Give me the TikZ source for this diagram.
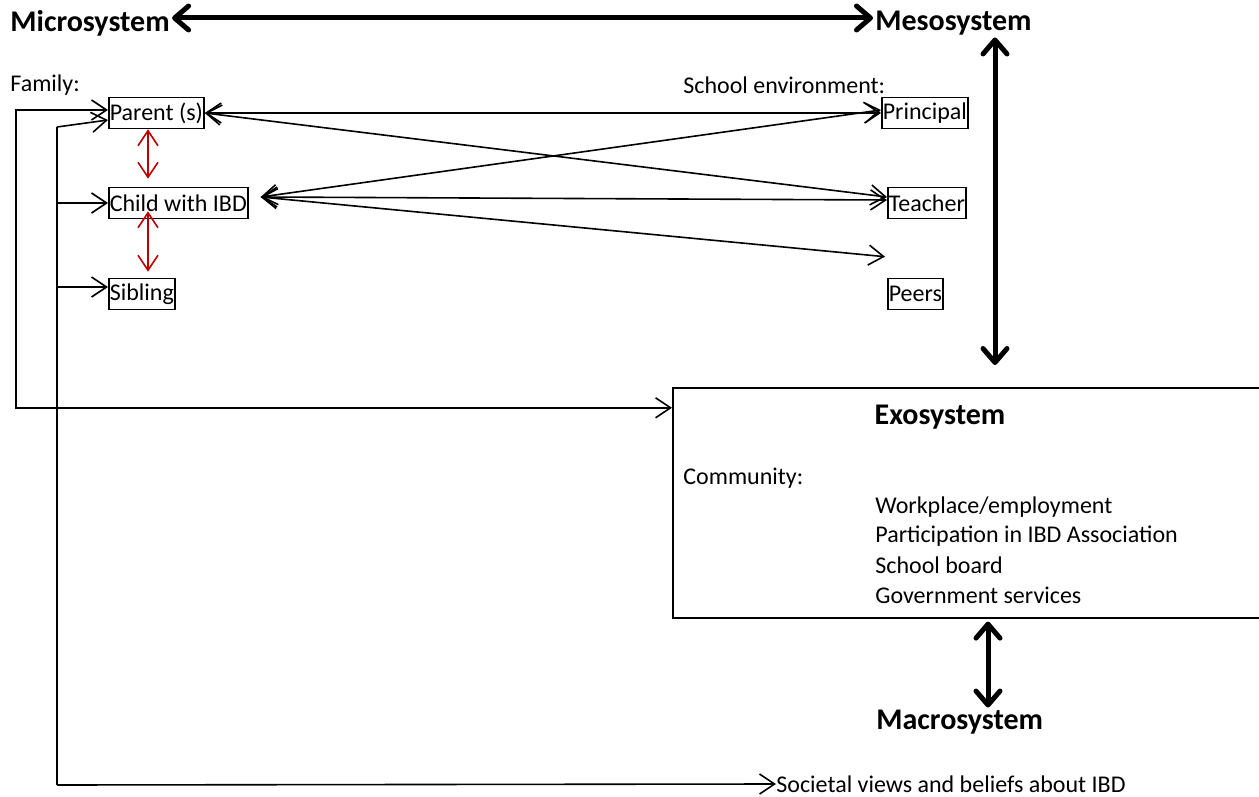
\documentclass[tikz,border=0pt]{standalone}
\usepackage{fontspec}
\setmainfont{Carlito}
\usetikzlibrary{arrows.meta}
\definecolor{arrowred}{RGB}{192,0,0}
\tikzstyle{member} = [rectangle, draw=black, line width=0.8pt, inner xsep=0.5pt, inner ysep=0pt, minimum height=15.5pt, anchor=west, font=\fontsize{12}{14}\selectfont]
\tikzstyle{plain} = [inner sep=0pt, anchor=west, font=\fontsize{12}{14}\selectfont]
\tikzstyle{heading} = [inner sep=1pt, font=\fontsize{15}{18}\selectfont\bfseries]
\tikzstyle{arrow} = [line width=0.8pt, >={Straight Barb[length=7.5pt,width=10pt]}]
\tikzstyle{redarrow} = [arrow, draw=arrowred]
\tikzstyle{bigarrow} = [line width=2.5pt, >={Straight Barb[length=7pt,width=12pt,line cap=round,line join=round]}]

\begin{document}
\begin{tikzpicture}[x=0.5pt, y=-0.5pt]
        \useasboundingbox (0,0) rectangle (1259,797);
        % systems
        \node (micro) [heading, anchor=west] at (8,23) {Microsystem};
        \node (meso) [heading, anchor=west] at (873,23) {Mesosystem};
        \node (macro) [heading, anchor=west] at (874,722) {Macrosystem};
        % family side
        \node (family) [plain] at (10,85) {Family:};
        \node (parent) [member] at (108,113) {Parent (s)};
        \node (child) [member] at (108,203) {Child with IBD};
        \node (sibling) [member] at (108,294) {Sibling};
        % school side
        \node (school) [plain] at (683,85) {School environment:};
        \node (principal) [member] at (881,113) {Principal};
        \node (teacher) [member] at (887,203) {Teacher};
        \node (peers) [member] at (887,294) {Peers};
        % exosystem
        \node (exo) [draw, line width=0.8pt, inner sep=0pt, minimum width=295pt, minimum height=115pt, anchor=north west] at (672,387) {};
        \node (exotitle) [heading] at (940,417) {Exosystem};
        \node (community) [plain] at (683,478) {Community:};
        \node (work) [plain] at (875,507) {Workplace/employment};
        \node (assoc) [plain] at (875,536) {Participation in IBD Association};
        \node (board) [plain] at (875,565) {School board};
        \node (services) [plain] at (875,595) {Government services};
        \node (societal) [plain] at (776,784) {Societal views and beliefs about IBD};

        \coordinate (mesox) at (995,0);
        \coordinate (macrox) at (988,0);
        \coordinate (redx) at (148,0);
        \coordinate (famtop) at (57,127);
        \coordinate (fambottom) at (57,785);

        \draw[bigarrow, <->] ([yshift=2.5pt]micro.east) -- ([yshift=2.5pt]meso.west);
        \draw[bigarrow, <->, shorten >=11pt] (meso.south -| mesox) -- (exo.north -| mesox);
        \draw[bigarrow, <->, shorten <=1.5pt] (exo.south -| macrox) -- (macro.north -| macrox);

        \draw[redarrow, <->, shorten >=4pt] (parent.south -| redx) -- (child.north -| redx);
        \draw[redarrow, <->, shorten <=-4pt, shorten >=3pt] (child.south -| redx) -- (sibling.north -| redx);

        \draw[arrow, <->] (parent.east) -- (principal.west);
        \draw[arrow, <->] (parent.east) -- ([yshift=3pt]teacher.west);
        \draw[arrow, <->] ([shift={(6pt,3pt)}]child.east) -- ([yshift=1.5pt]principal.west);
        \draw[arrow, <->] ([shift={(6pt,3pt)}]child.east) -- ([yshift=1.5pt]teacher.west);
        \draw[arrow, <->] ([shift={(6pt,3pt)}]child.east) -- ([shift={(-1pt,10.5pt)}]peers.north west);

        \draw[arrow, <->] ([yshift=1.5pt]parent.west) --++(-92,0) |- ([yshift=47.5pt]exo.west);
        \draw[arrow] (famtop) -- (fambottom);
        \draw[arrow, ->] (famtop) -- ([yshift=-3.5pt]parent.west);
        \draw[arrow, <-] (child.west) --++(-51,0);
        \draw[arrow, <-] ([yshift=3.5pt]sibling.west) --++(-51,0);
        \draw[arrow, ->] (fambottom) -- (societal.west);
    \end{tikzpicture}
\end{document}
